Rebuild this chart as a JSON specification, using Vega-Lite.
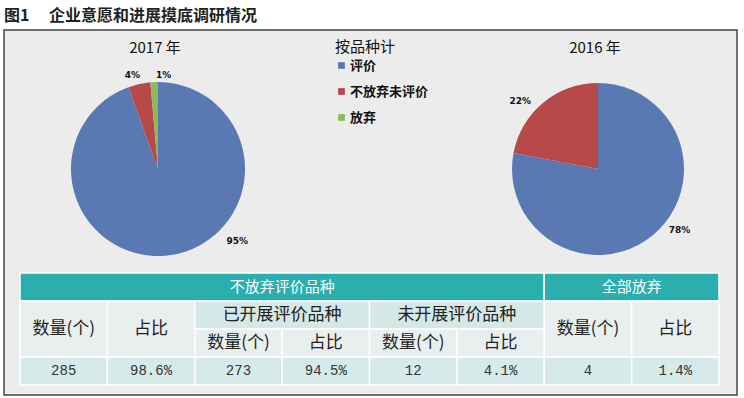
{
  "$schema": "https://vega.github.io/schema/vega-lite/v6.json",
  "width": 733,
  "height": 365,
  "autosize": "none",
  "padding": {"left": 4, "top": 30, "right": 7, "bottom": 3},
  "background": "white",
  "title": {"text": "图1　   企业意愿和进展摸底调研情况", "anchor": "start", "frame": "group", "offset": 6, "fontSize": 16, "fontWeight": "bold", "font": "Noto Sans CJK SC", "color": "#222"},
  "config": {"view": {"fill": "#ececec", "stroke": "#444", "strokeWidth": 1.5}},
  "datasets": {
    "pie": [
      {"year": "2017", "cat": "评价", "pct": 94.5, "ord": 1, "lbl": "95%"},
      {"year": "2017", "cat": "不放弃未评价", "pct": 4.1, "ord": 2, "lbl": "4%"},
      {"year": "2017", "cat": "放弃", "pct": 1.4, "ord": 3, "lbl": "1%"},
      {"year": "2016", "cat": "评价", "pct": 78, "ord": 1, "lbl": "78%"},
      {"year": "2016", "cat": "不放弃未评价", "pct": 22, "ord": 2, "lbl": "22%"}
    ],
    "years": [
      {"year": "2017", "t": "2017 年"},
      {"year": "2016", "t": "2016 年"}
    ],
    "cells": [
      {"c0": 0, "c1": 6, "r0": 0, "r1": 1, "kind": "head", "label": "不放弃评价品种"},
      {"c0": 6, "c1": 8, "r0": 0, "r1": 1, "kind": "head", "label": "全部放弃"},
      {"c0": 0, "c1": 1, "r0": 1, "r1": 3, "kind": "colhead", "label": "数量(个)"},
      {"c0": 1, "c1": 2, "r0": 1, "r1": 3, "kind": "colhead", "label": "占比"},
      {"c0": 2, "c1": 4, "r0": 1, "r1": 2, "kind": "group", "label": "已开展评价品种"},
      {"c0": 4, "c1": 6, "r0": 1, "r1": 2, "kind": "group", "label": "未开展评价品种"},
      {"c0": 2, "c1": 3, "r0": 2, "r1": 3, "kind": "colhead", "label": "数量(个)"},
      {"c0": 3, "c1": 4, "r0": 2, "r1": 3, "kind": "colhead", "label": "占比"},
      {"c0": 4, "c1": 5, "r0": 2, "r1": 3, "kind": "colhead", "label": "数量(个)"},
      {"c0": 5, "c1": 6, "r0": 2, "r1": 3, "kind": "colhead", "label": "占比"},
      {"c0": 6, "c1": 7, "r0": 1, "r1": 3, "kind": "colhead", "label": "数量(个)"},
      {"c0": 7, "c1": 8, "r0": 1, "r1": 3, "kind": "colhead", "label": "占比"},
      {"c0": 0, "c1": 1, "r0": 3, "r1": 4, "kind": "data", "label": "285"},
      {"c0": 1, "c1": 2, "r0": 3, "r1": 4, "kind": "data", "label": "98.6%"},
      {"c0": 2, "c1": 3, "r0": 3, "r1": 4, "kind": "data", "label": "273"},
      {"c0": 3, "c1": 4, "r0": 3, "r1": 4, "kind": "data", "label": "94.5%"},
      {"c0": 4, "c1": 5, "r0": 3, "r1": 4, "kind": "data", "label": "12"},
      {"c0": 5, "c1": 6, "r0": 3, "r1": 4, "kind": "data", "label": "4.1%"},
      {"c0": 6, "c1": 7, "r0": 3, "r1": 4, "kind": "data", "label": "4"},
      {"c0": 7, "c1": 8, "r0": 3, "r1": 4, "kind": "data", "label": "1.4%"}
    ]
  },
  "resolve": {"scale": {"x": "independent", "y": "independent"}},
  "layer": [
    {
      "data": {"name": "pie"},
      "encoding": {
        "x": {"field": "year", "type": "nominal", "scale": {"type": "point", "domain": ["2017", "2016"], "range": [154, 594], "padding": 0}, "axis": null},
        "y": {"datum": "pie", "type": "nominal", "scale": {"type": "point", "domain": ["title", "pie"], "range": [18, 139], "padding": 0}, "axis": null},
        "theta": {"field": "pct", "type": "quantitative", "stack": true, "scale": {"domain": [0, 100]}},
        "order": {"field": "ord", "type": "quantitative"}
      },
      "layer": [
        {
          "transform": [{"filter": "datum.year === '2017'"}],
          "mark": {"type": "arc", "outerRadius": 87},
          "encoding": {
            "color": {"field": "cat", "type": "nominal", "scale": {"domain": ["评价", "不放弃未评价", "放弃"], "range": ["#5a78b2", "#b84949", "#8cba5a"]},
              "legend": {"title": "按品种计", "orient": "none", "legendX": 331, "legendY": 10, "symbolType": "square", "symbolSize": 45, "symbolStrokeWidth": 0, "titleFont": "Noto Sans CJK SC", "titleFontSize": 15, "titleFontWeight": "normal", "titleColor": "#111", "titlePadding": 4, "labelFont": "Noto Sans CJK SC", "labelFontSize": 13, "labelFontWeight": "bold", "labelColor": "#111", "labelOffset": 2, "rowPadding": 12}}
          }
        },
        {
          "transform": [{"filter": "datum.year === '2016'"}],
          "mark": {"type": "arc", "outerRadius": 86},
          "encoding": {"color": {"field": "cat", "type": "nominal"}}
        },
        {
          "transform": [{"filter": "datum.year === '2017'"}],
          "mark": {"type": "text", "radius": 107, "thetaOffset": -0.66, "font": "DejaVu Sans", "fontSize": 9, "fontWeight": "bold", "color": "#111"},
          "encoding": {"text": {"condition": {"test": "datum.cat === '评价'", "field": "lbl"}, "value": ""}}
        },
        {
          "transform": [{"filter": "datum.year === '2017'"}],
          "mark": {"type": "text", "radius": 97, "thetaOffset": -0.05, "font": "DejaVu Sans", "fontSize": 9, "fontWeight": "bold", "color": "#111"},
          "encoding": {"text": {"condition": {"test": "datum.cat === '不放弃未评价'", "field": "lbl"}, "value": ""}}
        },
        {
          "transform": [{"filter": "datum.year === '2017'"}],
          "mark": {"type": "text", "radius": 94, "thetaOffset": 0.105, "font": "DejaVu Sans", "fontSize": 9, "fontWeight": "bold", "color": "#111"},
          "encoding": {"text": {"condition": {"test": "datum.cat === '放弃'", "field": "lbl"}, "value": ""}}
        },
        {
          "transform": [{"filter": "datum.year === '2016'"}],
          "mark": {"type": "text", "radius": 102, "thetaOffset": -0.234, "font": "DejaVu Sans", "fontSize": 9, "fontWeight": "bold", "color": "#111"},
          "encoding": {"text": {"condition": {"test": "datum.cat === '评价'", "field": "lbl"}, "value": ""}}
        },
        {
          "transform": [{"filter": "datum.year === '2016'"}],
          "mark": {"type": "text", "radius": 103, "thetaOffset": -0.164, "font": "DejaVu Sans", "fontSize": 9, "fontWeight": "bold", "color": "#111"},
          "encoding": {"text": {"condition": {"test": "datum.cat === '不放弃未评价'", "field": "lbl"}, "value": ""}}
        },
        {
          "data": {"name": "years"},
          "mark": {"type": "text", "font": "Noto Sans CJK SC", "fontSize": 15, "color": "#111", "dx": -3},
          "encoding": {
            "y": {"datum": "title", "type": "nominal"},
            "theta": null,
            "order": null,
            "text": {"field": "t"}
          }
        }
      ]
    },
    {
      "data": {"name": "cells"},
      "layer": [
        {
          "mark": {"type": "rect", "stroke": "white", "strokeWidth": 1.5},
          "encoding": {
            "x": {"field": "c0", "type": "quantitative", "scale": {"domain": [0, 8], "range": [16, 715], "nice": false, "zero": false}, "axis": null},
            "x2": {"field": "c1"},
            "y": {"field": "r0", "type": "quantitative", "scale": {"domain": [0, 4], "range": [243, 355], "nice": false, "zero": false}, "axis": null},
            "y2": {"field": "r1"},
            "fill": {"field": "kind", "type": "nominal", "scale": {"domain": ["head", "group", "colhead", "data"], "range": ["#2aafae", "#d4e8e7", "#e9eeee", "#d6eaea"]}, "legend": null}
          }
        },
        {
          "transform": [
            {"fold": ["c0", "c1"], "as": ["xk", "xv"]},
            {"fold": ["r0", "r1"], "as": ["yk", "yv"]}
          ],
          "encoding": {
            "x": {"field": "xv", "type": "quantitative", "aggregate": "mean", "scale": {"domain": [0, 8], "range": [16, 715], "nice": false, "zero": false}, "axis": null},
            "y": {"field": "yv", "type": "quantitative", "aggregate": "mean", "scale": {"domain": [0, 4], "range": [243, 355], "nice": false, "zero": false}, "axis": null},
            "detail": [{"field": "c0", "type": "quantitative"}, {"field": "r0", "type": "quantitative"}],
            "text": {"field": "label", "type": "nominal"}
          },
          "layer": [
            {
              "transform": [{"filter": "datum.kind === 'head'"}],
              "mark": {"type": "text", "font": "Noto Sans CJK SC", "fontSize": 15, "color": "white"}
            },
            {
              "transform": [{"filter": "datum.kind === 'group' || datum.kind === 'colhead'"}],
              "mark": {"type": "text", "font": "Noto Sans CJK SC", "fontSize": 17, "color": "#222"}
            },
            {
              "transform": [{"filter": "datum.kind === 'data'"}],
              "mark": {"type": "text", "font": "Liberation Mono", "fontSize": 14, "color": "#333"}
            }
          ]
        }
      ]
    }
  ]
}
